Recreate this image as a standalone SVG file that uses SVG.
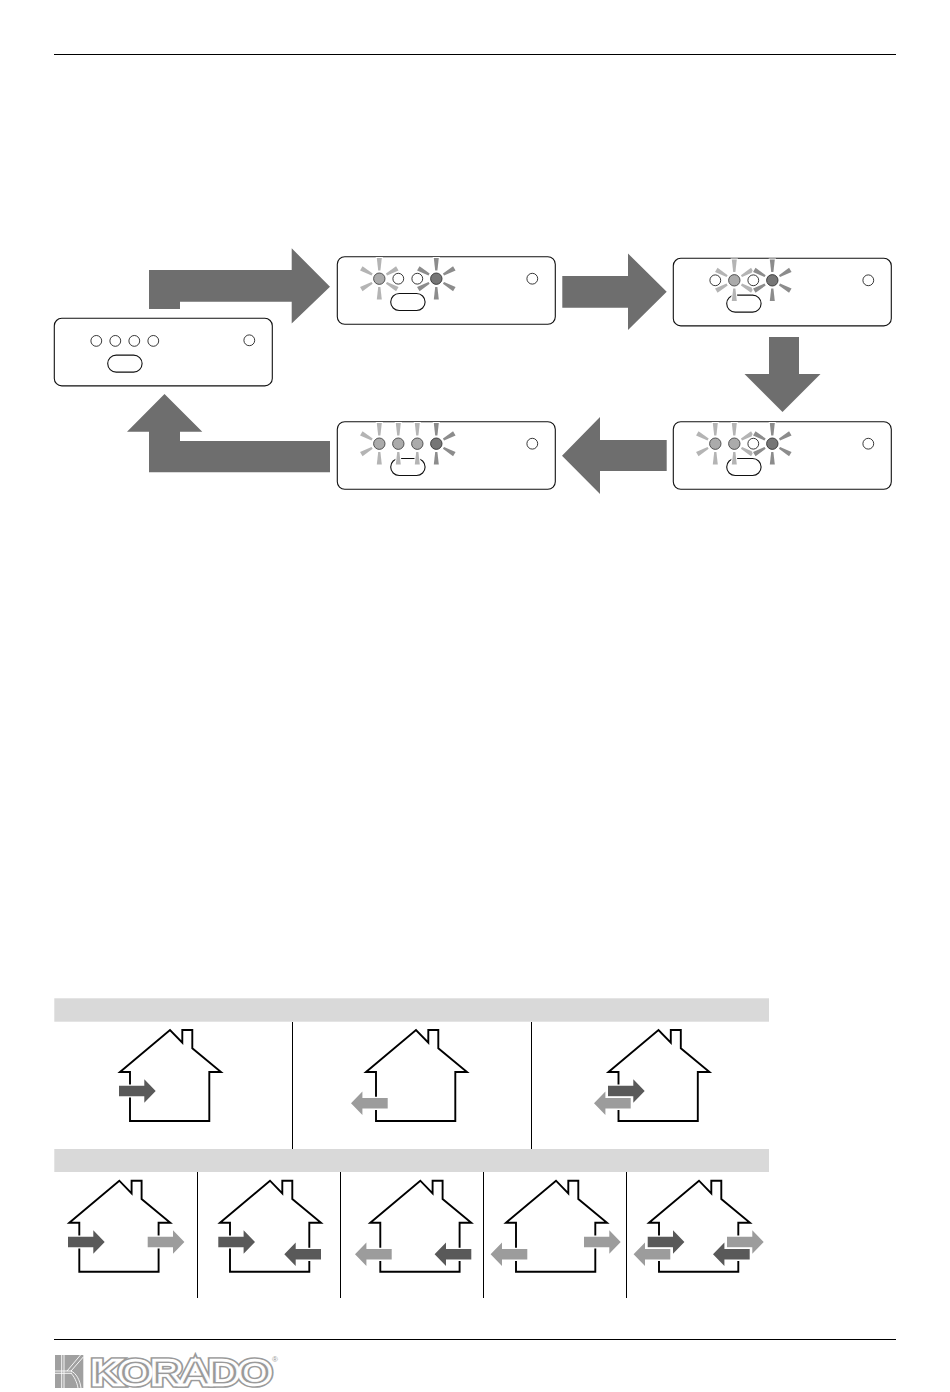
<svg xmlns="http://www.w3.org/2000/svg" width="950" height="1392" viewBox="0 0 950 1392">
<style>
.rule{stroke:#000;stroke-width:1;fill:none}
.panel{fill:#fff;stroke:#111;stroke-width:1.1}
.led{fill:#fff;stroke:#222;stroke-width:0.9}
.lit{fill:#ababab;stroke:#444;stroke-width:0.9}
.dk{fill:#767676;stroke:#333;stroke-width:0.9}
.rl{fill:#b4b4b4;stroke:#fff;stroke-width:2;paint-order:stroke}
.rd{fill:#8c8c8c;stroke:#fff;stroke-width:2;paint-order:stroke}
.big{fill:#6e6e6e}
.bar{fill:#d9d9d9}
.house{fill:#fff;stroke:#000;stroke-width:1.9;stroke-linejoin:miter}
.a{stroke:#fff;stroke-width:2.6;paint-order:stroke}
.ad{fill:#595959}
.al{fill:#9c9c9c}
</style>
<defs>
<polygon id="ray" points="-1.1,-8.3 1.1,-8.3 2.5,-20.8 -2.5,-20.8"/>
<g id="up"><use href="#ray"/></g>
<g id="down"><use href="#ray" transform="rotate(180)"/></g>
<g id="ur"><use href="#ray" transform="rotate(60)"/></g>
<g id="dr"><use href="#ray" transform="rotate(120)"/></g>
<g id="dl"><use href="#ray" transform="rotate(240)"/></g>
<g id="ul"><use href="#ray" transform="rotate(300)"/></g>
<g id="all"><use href="#up"/><use href="#down"/><use href="#ur"/><use href="#dr"/><use href="#dl"/><use href="#ul"/></g>
<g id="base">
<rect class="panel" x="0" y="0" width="218" height="67.6" rx="7.5"/>
<circle class="led" cx="195" cy="22" r="5.4"/>
<rect class="panel" x="53.4" y="36.8" width="34.4" height="17" rx="8.5"/>
</g>
<path id="ar" class="a" d="M0,-5.3H25.3V-11.7L36.7,0L25.3,11.7V5.3H0Z"/>
<path id="hs" class="house" d="M-50,42L0,0L12.3,12.7V0H22.3V18.3L51,42H39.3V91H-40V42Z"/>
<text id="kw" x="92" y="1384" font-family="'Liberation Sans',Arial,sans-serif" font-size="34" textLength="179" lengthAdjust="spacingAndGlyphs">KORADO</text>
</defs>

<line class="rule" x1="54" y1="54.5" x2="896" y2="54.5"/>

<g id="connectors">
<polygon class="big" points="149,270 291.7,270 291.7,248.3 330,286.7 291.7,323.5 291.7,301.7 180,301.7 180,309 149,309"/>
<polygon class="big" points="562.3,276 628,276 628,253.5 666.7,291.8 628,330 628,307.7 562.3,307.7"/>
<polygon class="big" points="769,337 799,337 799,374 820.5,374 782.5,412 744.5,374 769,374"/>
<polygon class="big" points="666.7,440 666.7,471 600,471 600,494 562,455.7 600,417 600,440"/>
<polygon class="big" points="164.5,394 202.3,431.7 180,431.7 180,441 330,441 330,472.3 149,472.3 149,431.7 127,431.7"/>
</g>

<g id="panel-1" transform="translate(54.3,318.3)">
<use href="#base"/>
<circle class="led" cx="42" cy="22.6" r="5.4"/><circle class="led" cx="61" cy="22.6" r="5.4"/><circle class="led" cx="80" cy="22.6" r="5.4"/><circle class="led" cx="99" cy="22.6" r="5.4"/>
</g>

<g id="panel-2" transform="translate(337.3,256.7)">
<use href="#base"/>
<circle class="led" cx="61" cy="22" r="5.4"/><circle class="led" cx="80" cy="22" r="5.4"/>
<use href="#all" class="rl" transform="translate(42,22)"/>
<use href="#all" class="rd" transform="translate(99,22)"/>
<circle class="lit" cx="42" cy="22" r="5.7"/><circle class="dk" cx="99" cy="22" r="5.7"/>
</g>

<g id="panel-3" transform="translate(673.3,258.3)">
<use href="#base"/>
<circle class="led" cx="42" cy="22" r="5.4"/><circle class="led" cx="80" cy="22" r="5.4"/>
<use href="#all" class="rl" transform="translate(61,22)"/>
<use href="#all" class="rd" transform="translate(99,22)"/>
<circle class="lit" cx="61" cy="22" r="5.7"/><circle class="dk" cx="99" cy="22" r="5.7"/>
</g>

<g id="panel-4" transform="translate(673.3,421.7)">
<use href="#base"/>
<circle class="led" cx="80" cy="22" r="5.4"/>
<g class="rl" transform="translate(42,22)"><use href="#up"/><use href="#down"/><use href="#ul"/><use href="#dl"/></g>
<g class="rl" transform="translate(61,22)"><use href="#up"/><use href="#down"/><use href="#ur"/><use href="#dr"/></g>
<use href="#all" class="rd" transform="translate(99,22)"/>
<circle class="lit" cx="42" cy="22" r="5.7"/><circle class="lit" cx="61" cy="22" r="5.7"/><circle class="dk" cx="99" cy="22" r="5.7"/>
</g>

<g id="panel-5" transform="translate(337.3,421.7)">
<use href="#base"/>
<g class="rl" transform="translate(42,22)"><use href="#up"/><use href="#down"/><use href="#ul"/><use href="#dl"/></g>
<g class="rl" transform="translate(61,22)"><use href="#up"/><use href="#down"/></g>
<g class="rl" transform="translate(80,22)"><use href="#up"/><use href="#down"/></g>
<g class="rd" transform="translate(99,22)"><use href="#up"/><use href="#down"/><use href="#ur"/><use href="#dr"/></g>
<circle class="lit" cx="42" cy="22" r="5.7"/><circle class="lit" cx="61" cy="22" r="5.7"/><circle class="lit" cx="80" cy="22" r="5.7"/><circle class="dk" cx="99" cy="22" r="5.7"/>
</g>

<g id="table">
<rect class="bar" x="54.3" y="998.3" width="714.7" height="23.4"/>
<rect class="bar" x="54.3" y="1149" width="714.7" height="23"/>
<line class="rule" x1="292.5" y1="1022" x2="292.5" y2="1149"/>
<line class="rule" x1="531.5" y1="1022" x2="531.5" y2="1149"/>
<line class="rule" x1="197.5" y1="1172" x2="197.5" y2="1298"/>
<line class="rule" x1="340.5" y1="1172" x2="340.5" y2="1298"/>
<line class="rule" x1="483.5" y1="1172" x2="483.5" y2="1298"/>
<line class="rule" x1="626.5" y1="1172" x2="626.5" y2="1298"/>
</g>

<g id="house-1"><use href="#hs" transform="translate(170,1030)"/><use href="#ar" class="ad" transform="translate(119,1091)"/></g>
<g id="house-2"><use href="#hs" transform="translate(416,1030)"/><use href="#ar" class="al" transform="translate(387.7,1103.3) scale(-1,1)"/></g>
<g id="house-3"><use href="#hs" transform="translate(658.5,1030)"/><use href="#ar" class="ad" transform="translate(608,1091)"/><use href="#ar" class="al" transform="translate(630.7,1103.3) scale(-1,1)"/></g>

<g id="house-4"><use href="#hs" transform="translate(119.3,1180.7)"/><use href="#ar" class="ad" transform="translate(68,1242)"/><use href="#ar" class="al" transform="translate(147.7,1242)"/></g>
<g id="house-5"><use href="#hs" transform="translate(270,1180.7)"/><use href="#ar" class="ad" transform="translate(218.3,1242)"/><use href="#ar" class="ad" transform="translate(321,1254.3) scale(-1,1)"/></g>
<g id="house-6"><use href="#hs" transform="translate(420.3,1180.7)"/><use href="#ar" class="al" transform="translate(391.7,1254.3) scale(-1,1)"/><use href="#ar" class="ad" transform="translate(471.3,1254.3) scale(-1,1)"/></g>
<g id="house-7"><use href="#hs" transform="translate(556,1180.7)"/><use href="#ar" class="al" transform="translate(527.3,1254.3) scale(-1,1)"/><use href="#ar" class="al" transform="translate(584,1242)"/></g>
<g id="house-8"><use href="#hs" transform="translate(699,1180.7)"/><use href="#ar" class="ad" transform="translate(647.7,1242)"/><use href="#ar" class="al" transform="translate(670.3,1254.3) scale(-1,1)"/><use href="#ar" class="al" transform="translate(727,1242)"/><use href="#ar" class="ad" transform="translate(749.7,1254.3) scale(-1,1)"/></g>

<line class="rule" x1="54" y1="1339.5" x2="896" y2="1339.5"/>

<g id="logo">
<rect x="55" y="1355" width="28.3" height="33" fill="#a0a0a0"/>
<g fill="none" stroke="#fff" stroke-width="0.9">
<path d="M61.7,1355V1388M64,1355V1388"/>
<path d="M55,1371H72M55,1373.3H72"/>
<path d="M83.3,1357L71,1371C76,1373 80,1380 81,1388M80.5,1355L67,1371M71,1373.3C74,1376 77,1382 78,1388"/>
</g>
<use href="#kw" fill="none" stroke="#9a9a9a" stroke-width="7.6"/>
<use href="#kw" fill="none" stroke="#fff" stroke-width="4.6"/>
<use href="#kw" fill="#9a9a9a" stroke="#fff" stroke-width="0.8"/>
<text x="272" y="1362" font-family="'Liberation Sans',Arial,sans-serif" font-size="8" fill="#999">®</text>
</g>
</svg>
